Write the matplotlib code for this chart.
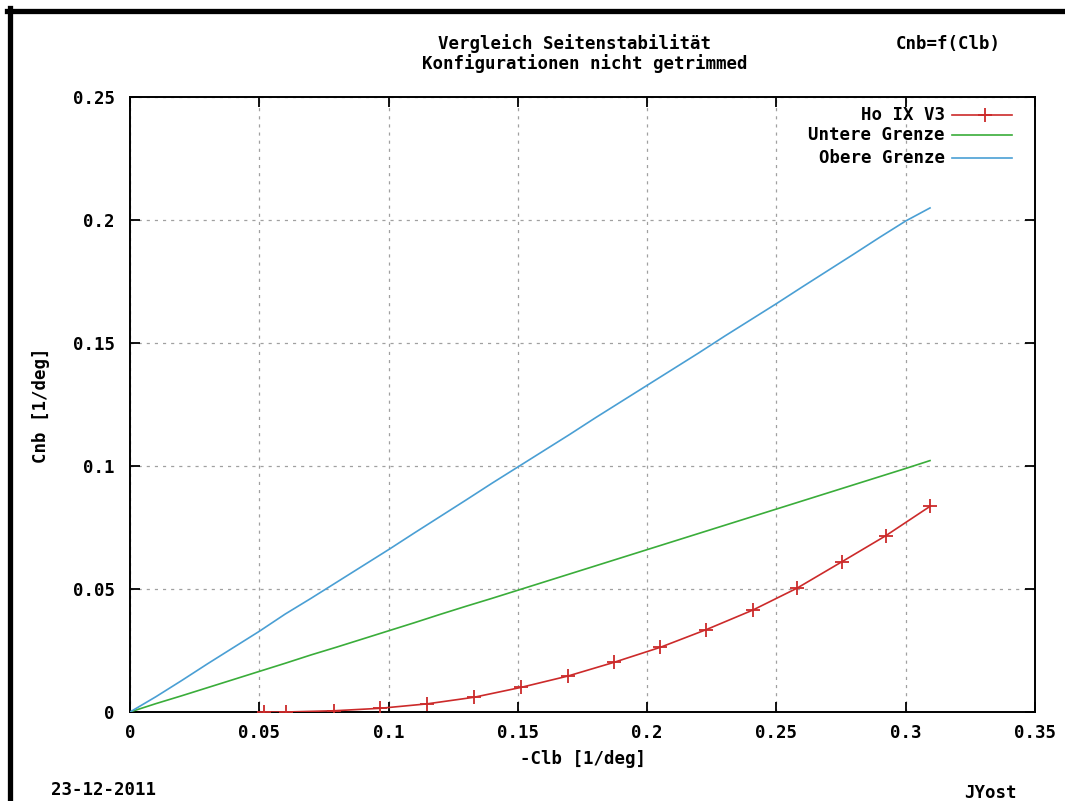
import matplotlib
matplotlib.use("Agg")
import matplotlib.pyplot as plt
from matplotlib.lines import Line2D

# -Clb / Cnb values, Ho IX V3 configuration
ho_x = [0.0519, 0.0602, 0.0788, 0.0967, 0.1148, 0.1331, 0.1512, 0.1693,
        0.1872, 0.2051, 0.2229, 0.2408, 0.2579, 0.2752, 0.2922, 0.3094]
ho_y = [0.0000, 0.0000, 0.0005, 0.0015, 0.0033, 0.0060, 0.0100, 0.0146,
        0.0202, 0.0263, 0.0335, 0.0414, 0.0503, 0.0610, 0.0716, 0.0836]

# stability limits
grenze_x = [0.00, 0.01, 0.02, 0.03, 0.04, 0.05, 0.06, 0.07, 0.08, 0.09,
            0.10, 0.11, 0.12, 0.13, 0.14, 0.15, 0.16, 0.17, 0.18, 0.19,
            0.20, 0.21, 0.22, 0.23, 0.24, 0.25, 0.26, 0.27, 0.28, 0.29,
            0.30, 0.3094]
untere_y = [0.0000, 0.0034, 0.0066, 0.0099, 0.0132, 0.0165, 0.0198, 0.0232,
            0.0264, 0.0297, 0.0330, 0.0363, 0.0397, 0.0430, 0.0462, 0.0495,
            0.0528, 0.0561, 0.0594, 0.0627, 0.0660, 0.0693, 0.0726, 0.0759,
            0.0792, 0.0825, 0.0858, 0.0891, 0.0924, 0.0957, 0.0990, 0.1022]
obere_y = [0.0000, 0.0062, 0.0128, 0.0196, 0.0262, 0.0328, 0.0398, 0.0462,
           0.0528, 0.0594, 0.0660, 0.0728, 0.0795, 0.0862, 0.0930, 0.0996,
           0.1062, 0.1128, 0.1196, 0.1262, 0.1328, 0.1394, 0.1460, 0.1528,
           0.1594, 0.1660, 0.1728, 0.1795, 0.1862, 0.1930, 0.1996, 0.2049]

x_ticks = [0, 0.05, 0.1, 0.15, 0.2, 0.25, 0.3, 0.35]
y_ticks = [0, 0.05, 0.1, 0.15, 0.2, 0.25]

RED = "#cc2a2a"
GREEN = "#3aad3a"
BLUE = "#4a9fd4"

plt.rcParams["font.family"] = ["DejaVu Sans Mono"]
plt.rcParams["font.weight"] = "bold"
FS = 12.5

W, H = 1065, 801
fig = plt.figure(figsize=(W / 100, H / 100), dpi=100)
fig.patch.set_facecolor("white")

L, R, T, B = 130, 1035, 97, 712
ax = fig.add_axes([L / W, 1 - B / H, (R - L) / W, (B - T) / H])

ax.plot(ho_x, ho_y, color=RED, lw=1.2, marker="+", ms=10, mew=1.3, zorder=4)
ax.plot(grenze_x, untere_y, color=GREEN, lw=1.2, zorder=3)
ax.plot(grenze_x, obere_y, color=BLUE, lw=1.2, zorder=3)

ax.set_xlim(0, 0.35)
ax.set_ylim(0, 0.25)
ax.set_xticks(x_ticks)
ax.set_yticks(y_ticks)
ax.set_xticklabels(["0" if v == 0 else f"{v:g}" for v in x_ticks], fontsize=FS, fontweight="bold")
ax.set_yticklabels(["0" if v == 0 else f"{v:g}" for v in y_ticks], fontsize=FS, fontweight="bold")
ax.tick_params(direction="in", length=7, width=1.3, top=True, right=True)
ax.tick_params(axis="y", pad=11)
ax.tick_params(axis="x", pad=9)
for sp in ax.spines.values():
    sp.set_linewidth(1.4)

ax.grid(True, color="#a0a0a0", lw=0.9, linestyle=(0, (2.5, 4)))

# legend, text right-justified with the sample to its right
def ax_frac(px, py):
    return (px - L) / (R - L), (B - py) / (B - T)

rows = [("Ho IX V3", RED, "+", 115), ("Untere Grenze", GREEN, None, 135),
        ("Obere Grenze", BLUE, None, 158)]
for label, col, mk, py in rows:
    tx, ty = ax_frac(945, py)
    ax.text(tx, ty, label, transform=ax.transAxes, ha="right", va="center",
            fontsize=FS, fontweight="bold")
    x0, _ = ax_frac(952, py)
    x1, _ = ax_frac(1012, py)
    ax.add_line(Line2D([x0, x1], [ty, ty], transform=ax.transAxes, color=col, lw=1.2))
    if mk:
        xm, _ = ax_frac(985, py)
        ax.add_line(Line2D([xm], [ty], transform=ax.transAxes, color=col,
                           marker=mk, ms=10, mew=1.3))

def fig_text(px, py, s, **kw):
    fig.text(px / W, 1 - py / H, s, fontsize=FS, fontweight="bold", **kw)

fig_text(575, 44, "Vergleich Seitenstabilität", ha="center", va="center")
fig_text(585, 64, "Konfigurationen nicht getrimmed", ha="center", va="center")
fig_text(948, 44, "Cnb=f(Clb)", ha="center", va="center")
fig_text(583, 759, "-Clb [1/deg]", ha="center", va="center")
fig_text(41, 405, "Cnb [1/deg]", ha="center", va="center", rotation=90)
fig_text(104, 790, "23-12-2011", ha="center", va="center")
fig_text(990, 793, "JYost", ha="center", va="center")

# black frame along the top and left edges
fig.add_artist(Line2D([7 / W, 1], [1 - 10.5 / H, 1 - 10.5 / H], color="black", lw=3.8))
fig.add_artist(Line2D([9.5 / W, 9.5 / W], [0, 1 - 8 / H], color="black", lw=3.8))

fig.savefig("out.png", dpi=100)
